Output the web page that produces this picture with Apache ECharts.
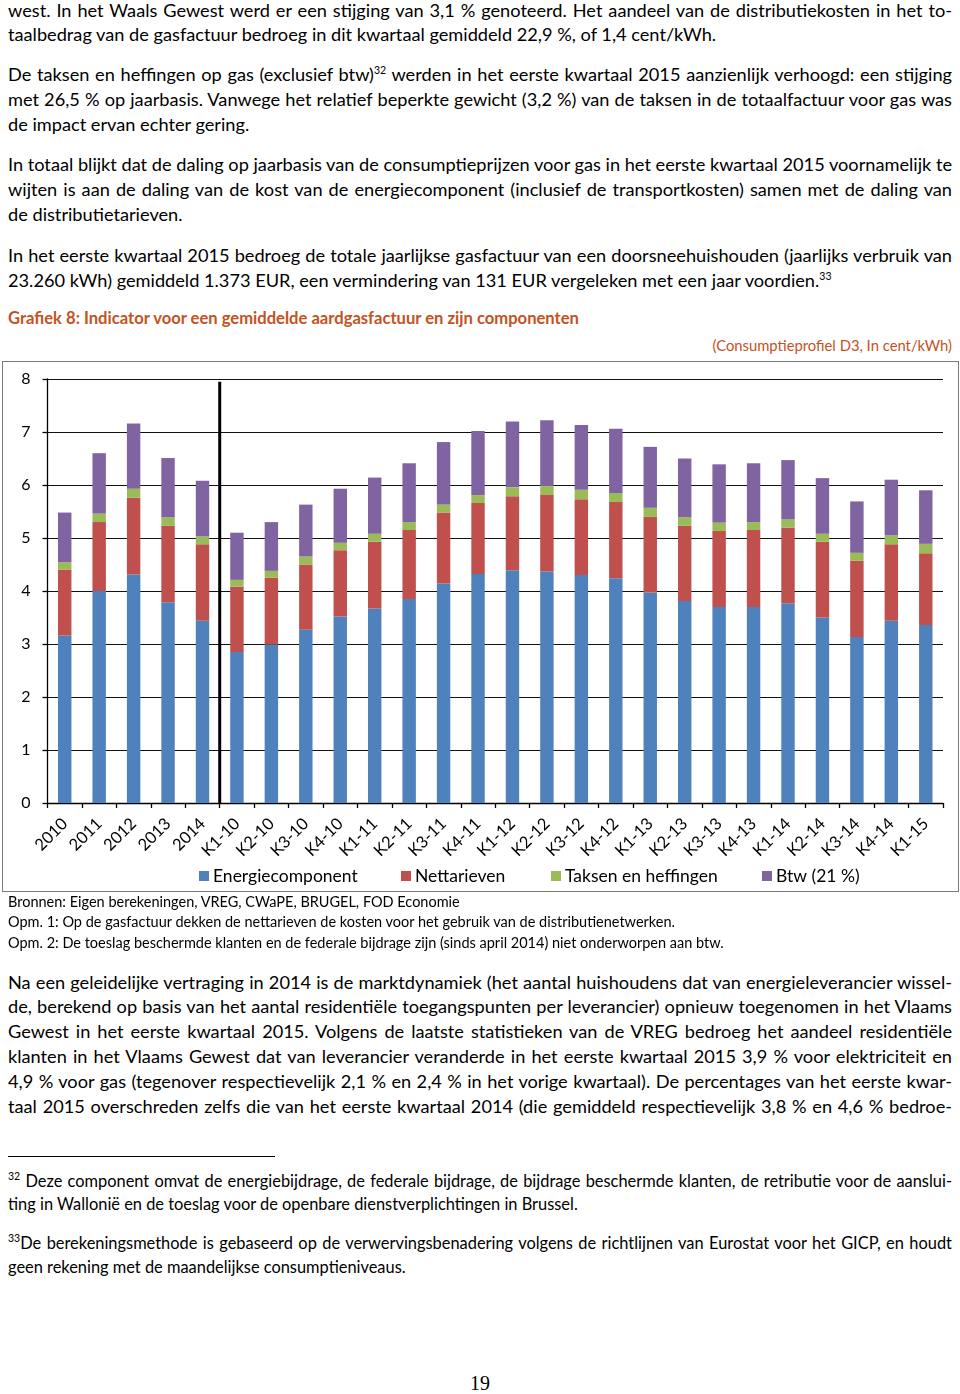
<!DOCTYPE html>
<html>
<head>
<meta charset="utf-8">
<script src="https://cdn.jsdelivr.net/npm/echarts@6/dist/echarts.min.js"></script>
<style>
  html, body { margin: 0; padding: 0; background: #fff; }
  body { width: 960px; height: 1394px; position: relative; overflow: hidden; font-family: Lato, "Open Sans", sans-serif; color: #000; }
  .ln { position: absolute; left: 8px; width: 944px; white-space: nowrap; font-size: 18.2px; line-height: 24px; height: 24px; }
  .ln span.t { display: inline-block; transform-origin: 0 50%; }
  sup { font-size: 10.5px; line-height: 0; vertical-align: 7px; }
  .src { font-size: 14.5px; }
  .fn { font-size: 16.4px; }
  #title { position: absolute; left: 8px; top: 308px; font-size: 16.6px; font-weight: bold; color: #C4521E; white-space: nowrap; }
  #sub { position: absolute; right: 8px; top: 336px; font-size: 14.8px; color: #C4521E; white-space: nowrap; }
  #chart { position: absolute; left: 2px; top: 361px; width: 955px; height: 529px; border: 1px solid #7a7a7a; }
  #rule { position: absolute; left: 8px; top: 1156px; width: 267px; height: 1px; background: #000; }
  #page { position: absolute; left: 0; width: 960px; top: 1372px; text-align: center; font-family: "Liberation Serif", serif; font-size: 20px; }
</style>
</head>
<body>
<div class="ln j" data-y="10"><span class="t">west. In het Waals Gewest werd er een stijging van 3,1 % genoteerd. Het aandeel van de distributiekosten in het to-</span></div>
<div class="ln" data-y="34"><span class="t">taalbedrag van de gasfactuur bedroeg in dit kwartaal gemiddeld 22,9 %, of 1,4 cent/kWh.</span></div>

<div class="ln j" data-y="74"><span class="t">De taksen en heffingen op gas (exclusief btw)<sup>32</sup> werden in het eerste kwartaal 2015 aanzienlijk verhoogd: een stijging</span></div>
<div class="ln j" data-y="99"><span class="t">met 26,5 % op jaarbasis. Vanwege het relatief beperkte gewicht (3,2 %) van de taksen in de totaalfactuur voor gas was</span></div>
<div class="ln" data-y="124"><span class="t">de impact ervan echter gering.</span></div>

<div class="ln j" data-y="164"><span class="t">In totaal blijkt dat de daling op jaarbasis van de consumptieprijzen voor gas in het eerste kwartaal 2015 voornamelijk te</span></div>
<div class="ln j" data-y="189"><span class="t">wijten is aan de daling van de kost van de energiecomponent (inclusief de transportkosten) samen met de daling van</span></div>
<div class="ln" data-y="214"><span class="t">de distributietarieven.</span></div>

<div class="ln j" data-y="255"><span class="t">In het eerste kwartaal 2015 bedroeg de totale jaarlijkse gasfactuur van een doorsneehuishouden (jaarlijks verbruik van</span></div>
<div class="ln" data-y="280"><span class="t">23.260 kWh) gemiddeld 1.373 EUR, een vermindering van 131 EUR vergeleken met een jaar voordien.<sup>33</sup></span></div>

<div id="title">Grafiek 8: Indicator voor een gemiddelde aardgasfactuur en zijn componenten</div>
<div id="sub">(Consumptieprofiel D3, In cent/kWh)</div>
<div id="chart"></div>

<div class="ln src" data-y="902"><span class="t">Bronnen: Eigen berekeningen, VREG, CWaPE, BRUGEL, FOD Economie</span></div>
<div class="ln src" data-y="922"><span class="t">Opm. 1: Op de gasfactuur dekken de nettarieven de kosten voor het gebruik van de distributienetwerken.</span></div>
<div class="ln src" data-y="943"><span class="t">Opm. 2: De toeslag beschermde klanten en de federale bijdrage zijn (sinds april 2014) niet onderworpen aan btw.</span></div>

<div class="ln j" data-y="982"><span class="t">Na een geleidelijke vertraging in 2014 is de marktdynamiek (het aantal huishoudens dat van energieleverancier wissel-</span></div>
<div class="ln j" data-y="1006"><span class="t">de, berekend op basis van het aantal residentiële toegangspunten per leverancier) opnieuw toegenomen in het Vlaams</span></div>
<div class="ln j" data-y="1031"><span class="t">Gewest in het eerste kwartaal 2015. Volgens de laatste statistieken van de VREG bedroeg het aandeel residentiële</span></div>
<div class="ln j" data-y="1056"><span class="t">klanten in het Vlaams Gewest dat van leverancier veranderde in het eerste kwartaal 2015 3,9 % voor elektriciteit en</span></div>
<div class="ln j" data-y="1081"><span class="t">4,9 % voor gas (tegenover respectievelijk 2,1 % en 2,4 % in het vorige kwartaal). De percentages van het eerste kwar-</span></div>
<div class="ln j" data-y="1106"><span class="t">taal 2015 overschreden zelfs die van het eerste kwartaal 2014 (die gemiddeld respectievelijk 3,8 % en 4,6 % bedroe-</span></div>

<div id="rule"></div>
<div class="ln fn j" data-y="1181"><span class="t"><sup>32</sup> Deze component omvat de energiebijdrage, de federale bijdrage, de bijdrage beschermde klanten, de retributie voor de aanslui-</span></div>
<div class="ln fn" data-y="1204"><span class="t">ting in Wallonië en de toeslag voor de openbare dienstverplichtingen in Brussel.</span></div>
<div class="ln fn j" data-y="1243"><span class="t"><sup>33</sup>De berekeningsmethode is gebaseerd op de verwervingsbenadering volgens de richtlijnen van Eurostat voor het GICP, en houdt</span></div>
<div class="ln fn" data-y="1267"><span class="t">geen rekening met de maandelijkse consumptieniveaus.</span></div>

<div id="page">19</div>

<script>
// ---- data ----
const categories = ['2010','2011','2012','2013','2014','K1-10','K2-10','K3-10','K4-10','K1-11','K2-11','K3-11','K4-11','K1-12','K2-12','K3-12','K4-12','K1-13','K2-13','K3-13','K4-13','K1-14','K2-14','K3-14','K4-14','K1-15'];
const energie = [3.16,4.00,4.31,3.79,3.44,2.85,2.99,3.27,3.52,3.67,3.85,4.14,4.32,4.39,4.37,4.30,4.24,3.97,3.81,3.70,3.70,3.77,3.50,3.13,3.44,3.36];
const nettarieven = [1.24,1.30,1.45,1.44,1.44,1.23,1.26,1.23,1.25,1.26,1.30,1.34,1.34,1.40,1.44,1.43,1.44,1.43,1.42,1.43,1.45,1.43,1.43,1.44,1.44,1.35];
const taksen = [0.14,0.16,0.17,0.16,0.15,0.13,0.13,0.15,0.14,0.15,0.15,0.15,0.15,0.17,0.17,0.18,0.17,0.17,0.16,0.16,0.15,0.15,0.15,0.15,0.17,0.18];
const btw = [0.94,1.14,1.23,1.12,1.05,0.89,0.92,0.98,1.02,1.06,1.11,1.18,1.21,1.24,1.24,1.22,1.21,1.15,1.11,1.10,1.11,1.12,1.05,0.97,1.05,1.01];
const seriesNames = ['Energiecomponent','Nettarieven','Taksen en heffingen','Btw (21 %)'];
const yTicks = [0,1,2,3,4,5,6,7,8];
const dividerAfter = 5;      // boundary between yearly and quarterly values
const dividerTop = 7.95;

// ---- text lines layout ----
document.querySelectorAll('.ln').forEach(el => {
  const y = +el.dataset.y;
  el.style.top = (y - 12) + 'px';
});
function fitLines() {
  document.querySelectorAll('.ln').forEach(el => {
    const sp = el.querySelector('.t');
    const W = 944;
    const w = sp.getBoundingClientRect().width;
    if (el.classList.contains('j')) {
      if (w > W) {
        sp.style.transform = 'scaleX(' + (W / w) + ')';
      } else {
        const words = sp.textContent.split(' ').length - 1;
        if (words > 0) sp.style.wordSpacing = ((W - w) / words) + 'px';
      }
    } else if (w > W) {
      sp.style.transform = 'scaleX(' + (W / w) + ')';
    }
  });
}
fitLines();

// ---- chart ----
const colors = ['#4F81BD','#C0504D','#9BBB59','#8064A2'];
const chart = echarts.init(document.getElementById('chart'), null, {renderer: 'canvas'});
const dataSets = [energie, nettarieven, taksen, btw];
const legendX = [196, 398, 548, 759];
const font = 'Lato, "Open Sans", sans-serif';

const series = dataSets.map((d, i) => ({
  name: seriesNames[i],
  type: 'bar',
  stack: 'total',
  data: d,
  barWidth: '39%',
  itemStyle: {color: colors[i]},
  emphasis: {disabled: true},
  z: 2
}));
series.push({
  type: 'line',
  xAxisIndex: 1,
  data: [[dividerAfter, 0], [dividerAfter, dividerTop]],
  symbol: 'none',
  silent: true,
  lineStyle: {color: '#000', width: 3},
  z: 5
});

chart.setOption({
  animation: false,
  textStyle: {fontFamily: font},
  grid: {left: 44.5, right: 15, top: 17, bottom: 88, containLabel: false},
  legend: seriesNames.map((n, i) => ({
    data: [n],
    left: legendX[i],
    top: 505,
    padding: 0,
    itemWidth: 10,
    itemHeight: 10,
    itemGap: 4,
    icon: 'rect',
    selectedMode: false,
    textStyle: {fontSize: 17.5, color: '#000', fontFamily: font, padding: [0, 0, 0, -1]}
  })),
  xAxis: [{
    type: 'category',
    data: categories,
    boundaryGap: true,
    axisLine: {lineStyle: {color: '#000', width: 1.3}},
    axisTick: {show: true, length: 5, lineStyle: {color: '#000', width: 1.3}},
    axisLabel: {rotate: 45, fontSize: 16.5, color: '#000', margin: 18, interval: 0, fontFamily: font}
  }, {
    type: 'value', min: 0, max: categories.length, show: false
  }],
  yAxis: {
    type: 'value',
    min: yTicks[0],
    max: yTicks[yTicks.length - 1],
    interval: 1,
    axisLine: {show: true, lineStyle: {color: '#000', width: 1.3}},
    axisTick: {show: true, length: 5, lineStyle: {color: '#000', width: 1.3}},
    axisLabel: {fontSize: 16, color: '#000', margin: 17, fontFamily: font},
    splitLine: {show: true, lineStyle: {color: '#111', width: 1.2}}
  },
  series: series
});
</script>
</body>
</html>
